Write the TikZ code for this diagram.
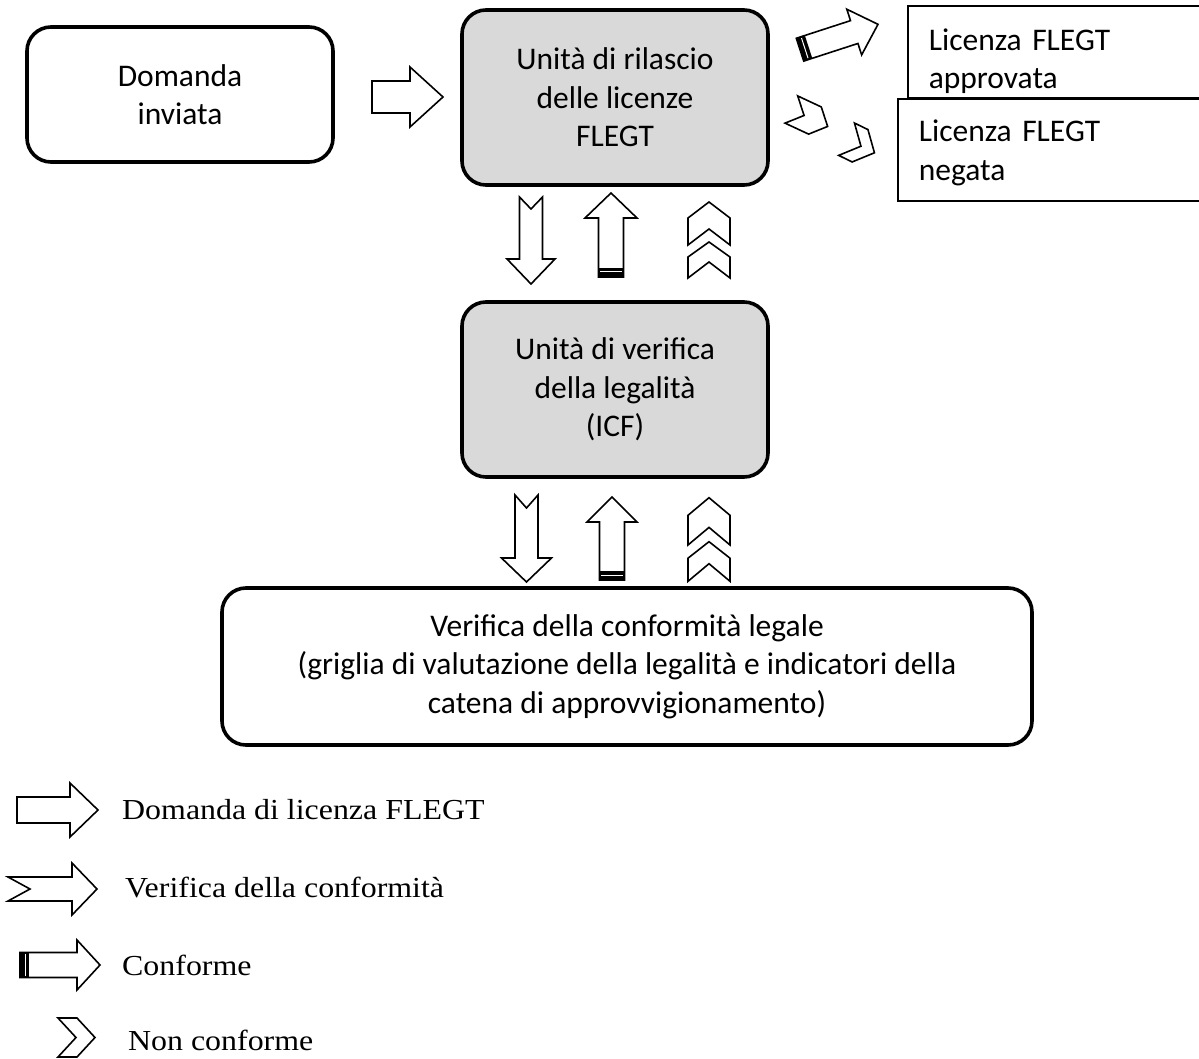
\documentclass[tikz,border=0pt]{standalone}
\usepackage{fontspec}
\setmainfont{Carlito}
\newfontfamily\legfont[FakeStretch=1.1]{Liberation Serif}
\usetikzlibrary{positioning}
\tikzset{
	blockline/.style={draw=black, line width=1.6pt, fill=white, line join=miter},
	% #1 length, #2 head length, #3 shaft half width, #4 head half width
	pics/domarrow/.style n args={4}{code={
		\draw[blockline] ({-#1/2},-#3) -- ({#1/2-#2},-#3) -- ({#1/2-#2},-#4) -- ({#1/2},0)
			-- ({#1/2-#2},#4) -- ({#1/2-#2},#3) -- ({-#1/2},#3) -- cycle;
	}},
	% same, #5 depth of the notch
	pics/verarrow/.style n args={5}{code={
		\draw[blockline] ({-#1/2},-#3) -- ({#1/2-#2},-#3) -- ({#1/2-#2},-#4) -- ({#1/2},0)
			-- ({#1/2-#2},#4) -- ({#1/2-#2},#3) -- ({-#1/2},#3) -- ({-#1/2+#5},0) -- cycle;
	}},
	pics/confarrow/.style n args={4}{code={
		\draw[blockline] ({-#1/2},-#3) -- ({#1/2-#2},-#3) -- ({#1/2-#2},-#4) -- ({#1/2},0)
			-- ({#1/2-#2},#4) -- ({#1/2-#2},#3) -- ({-#1/2},#3) -- cycle;
		\fill ({-#1/2},-#3) rectangle ({-#1/2+9},#3);
		\draw[white, line width=1pt] ({-#1/2+5},{-#3+1.5}) -- ({-#1/2+5},{#3-1.5});
	}},
	% #1 arm length, #2 tip depth, #3 half width
	pics/chevron/.style n args={3}{code={
		\draw[blockline] ({-(#1+#2)/2},-#3) -- ({#1-(#1+#2)/2},-#3) -- ({(#1+#2)/2},0)
			-- ({#1-(#1+#2)/2},#3) -- ({-(#1+#2)/2},#3) -- ({#2-(#1+#2)/2},0) -- cycle;
	}},
	pics/dblchev/.style={code={
		\draw[blockline] (-5,-21) -- (22,-21) -- (38,0) -- (22,21) -- (-5,21) -- (11,0) -- cycle;
		\draw[blockline] (-38,-21) -- (-17,-21) -- (-2,0) -- (-17,21) -- (-38,21) -- (-22,0) -- cycle;
	}}
}

\begin{document}
\begin{tikzpicture}[x=1pt, y=-1pt,
		mainbox/.style={draw, line width=3.6pt, rounded corners=24pt, fill=white,
				minimum width=306, minimum height=135, align=center,
				font=\fontsize{31.5}{38.5}\selectfont},
		licbox/.style={draw, line width=1.6pt, fill=white, anchor=north west, align=left,
				minimum width=320, text width=278, inner xsep=21,
				font=\fontsize{31.5}{38.5}\selectfont},
		legtext/.style={anchor=west, inner sep=0, font=\legfont\fontsize{29}{34}\selectfont}]
	\useasboundingbox (0,0) rectangle (1199,1059);

	% boxes
	\node[mainbox] (dom) at (180,94.5) {Domanda\\inviata};
	\node[mainbox, fill=black!15, minimum height=175] (rel) at (615,97.5) {Unità di rilascio\\delle licenze\\FLEGT};
	\node[mainbox, fill=black!15, minimum height=175] (icf) at (615,389.5) {Unità di verifica\\della legalità\\(ICF)};
	\node[mainbox, minimum width=810, minimum height=157] (ver) at (627,666.5) {Verifica della conformità legale\\(griglia di valutazione della legalità e indicatori della\\catena di approvvigionamento)};
	\node[licbox, minimum height=92] (appr) at (907,5) {\rule{0pt}{40pt}Licenza FLEGT\\approvata};
	\node[licbox, minimum height=102] (neg) at (897,98) {\rule{0pt}{28pt}Licenza FLEGT\\negata};

	% arrows between the boxes
	\pic at (407.5,97) {domarrow={71}{33}{16}{30}};
	\pic[rotate=18] at (839,37) {confarrow={82}{25}{12}{24}};
	\pic[rotate=-25] at (809.5,118) {chevron={26}{14}{15}};
	\pic[rotate=-26] at (860.5,146) {chevron={15}{16}{18}};

	\pic[rotate=-90] at (531,240.5) {verarrow={87}{25}{11.5}{24}{12}};
	\pic[rotate=90] at (611,235) {confarrow={84}{25}{12.5}{26}};
	\pic[rotate=90] at (709,240) {dblchev};

	\pic[rotate=-90] at (526.5,538.5) {verarrow={87}{24}{11.5}{25}{13}};
	\pic[rotate=90] at (612,538.5) {confarrow={83}{25}{12.5}{25}};
	\pic[rotate=90, xscale=1.1] at (709,539.5) {dblchev};

	% legend
	\pic at (57.5,810) {domarrow={81}{28}{13}{27}};
	\node[legtext] (lgdom) at (122,810) {Domanda di licenza FLEGT};
	\pic at (52.5,889) {verarrow={89}{25}{12}{26}{22}};
	\node[legtext] (lgver) at (125,888) {Verifica della conformità};
	\pic at (60,965) {confarrow={80}{23}{12.5}{25}};
	\node[legtext] (lgconf) at (122,965) {Conforme};
	\pic at (76.5,1037.5) {chevron={19}{18}{19.5}};
	\node[legtext] (lgnon) at (128,1040) {Non conforme};
\end{tikzpicture}
\end{document}
